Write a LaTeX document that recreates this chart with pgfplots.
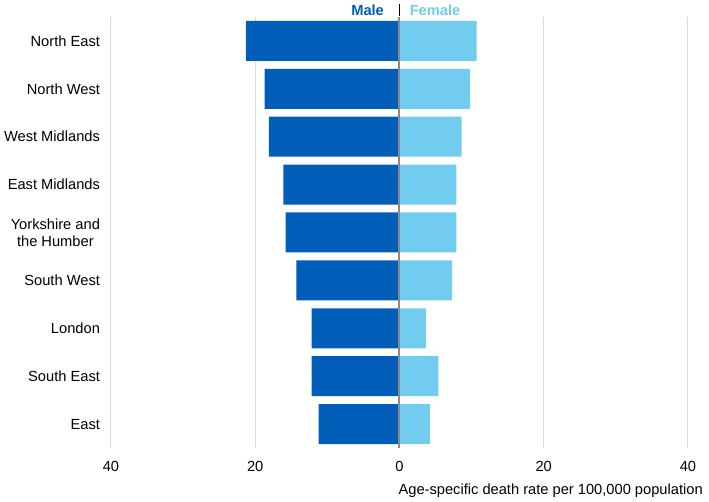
\documentclass[border=0pt]{standalone}
\usepackage{fontspec}
\setmainfont{Liberation Sans}
\usepackage{pgfplots}
\pgfplotsset{compat=1.18}
\definecolor{maleblue}{RGB}{0,94,184}
\definecolor{femaleblue}{RGB}{113,204,239}
\definecolor{gridgray}{RGB}{217,217,217}
\definecolor{zerogray}{RGB}{138,138,138}
\begin{document}
\begin{tikzpicture}[font=\fontsize{11}{13}\selectfont]
\path[use as bounding box] (-83.25pt,-40.5pt) rectangle (448.5pt,336pt);
\begin{axis}[
  at={(0,0)}, anchor=south west,
  scale only axis,
  width=432.75pt, height=323.25pt,
  xmin=-40, xmax=40, ymin=-0.5, ymax=8.5,
  xbar, bar width=30pt, bar shift=0pt,
  axis line style={draw=none},
  xtick={-40,-20,0,20,40},
  xticklabels={40,20,0,20,40},
  ytick={0,...,8},
  yticklabels={East,South East,London,South West,{Yorkshire and\\the Humber},East Midlands,West Midlands,North West,North East},
  yticklabel style={align=center, xshift=-0.5pt},
  xticklabel style={yshift=-6.25pt},
  tick style={draw=none},
  clip=false,
]
\draw[gridgray, line width=0.75pt] (axis cs:-40,-0.5) -- (axis cs:-40,8.5);
\draw[gridgray, line width=0.75pt] (axis cs:-20,-0.5) -- (axis cs:-20,8.5);
\draw[gridgray, line width=0.75pt] (axis cs:20,-0.5) -- (axis cs:20,8.5);
\draw[gridgray, line width=0.75pt] (axis cs:40,-0.5) -- (axis cs:40,8.5);
\addplot[fill=maleblue, draw=none] coordinates {
  (-21.3,8) (-18.7,7) (-18.1,6) (-16.1,5) (-15.8,4) (-14.3,3) (-12.2,2) (-12.2,1) (-11.2,0)};
\addplot[fill=femaleblue, draw=none] coordinates {
  (10.7,8) (9.8,7) (8.6,6) (7.9,5) (7.9,4) (7.3,3) (3.7,2) (5.4,1) (4.2,0)};
\draw[zerogray, line width=1.5pt] (axis cs:0,-0.5) -- (axis cs:0,8.5);
\draw[black, line width=0.9pt] ([yshift=0.5pt]axis cs:0,8.5) -- ([yshift=10pt]axis cs:0,8.5);
\node[anchor=east, font=\fontsize{11}{13}\selectfont\bfseries, text=maleblue, inner sep=0pt] at ([xshift=-11.5pt,yshift=5.25pt]axis cs:0,8.5) {Male};
\node[anchor=west, font=\fontsize{11}{13}\selectfont\bfseries, text=femaleblue, inner sep=0pt] at ([xshift=7.5pt,yshift=5.25pt]axis cs:0,8.5) {Female};
\node[anchor=east, inner sep=0pt] at ([xshift=11.25pt,yshift=-32.25pt]axis cs:40,-0.5) {Age-specific death rate per 100,000 population};
\end{axis}
\end{tikzpicture}
\end{document}
